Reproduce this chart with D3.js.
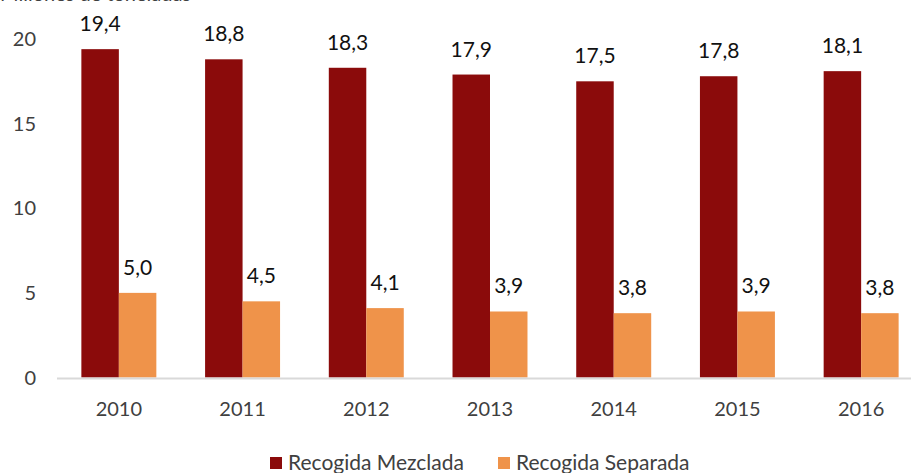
<!doctype html>
<html lang="es">
<head>
<meta charset="utf-8">
<title>Recogida de residuos</title>
<script src="https://cdnjs.cloudflare.com/ajax/libs/d3/7.8.5/d3.min.js"></script>
<style>
	body { margin: 0; background: #fff; }
	svg { display: block; font-family: Lato, "Open Sans", sans-serif; }
	.tick-label { fill: #404040; font-size: 20px; }
	.data-label { fill: #111; font-size: 21px; text-anchor: middle; }
	.legend-label { fill: #404040; font-size: 21px; }
</style>
</head>
<body>
<div id="viz"></div>
<script>
// Data
var years = ["2010", "2011", "2012", "2013", "2014", "2015", "2016"];
var mezclada = [19.4, 18.8, 18.3, 17.9, 17.5, 17.8, 18.1];
var separada = [5.0, 4.5, 4.1, 3.9, 3.8, 3.9, 3.8];
var seriesNames = ["Recogida Mezclada", "Recogida Separada"];
var yTicks = [0, 5, 10, 15, 20];

(function(d3) {
	var w = 911, h = 473;
	var colors = ["#8b0b0b", "#ef934a"];

	var svg = d3.select("#viz").append("svg")
		.attr("width", w)
		.attr("height", h);

	// title, cut off at the top edge as in the original
	svg.append("text")
		.attr("x", 0)
		.attr("y", 1)
		.attr("class", "tick-label")
		.text("Millones de toneladas");

	// SCALES
	var x = d3.scaleBand()
		.domain(years)
		.range([57, 923])
		.paddingInner(0.394)
		.paddingOuter(0.197);

	var x1 = d3.scaleBand()
		.domain([0, 1])
		.range([0, x.bandwidth()]);

	var y = d3.scaleLinear()
		.domain([0, 20])
		.range([377.5, 39]);

	// y tick labels
	svg.selectAll("text.ytick")
		.data(yTicks)
		.enter()
		.append("text")
		.attr("class", "tick-label ytick")
		.attr("x", 36)
		.attr("y", function(d) { return y(d); })
		.attr("dy", "0.35em")
		.style("text-anchor", "end")
		.text(function(d) { return d; });

	// bars
	var groups = svg.selectAll("g.year")
		.data(years)
		.enter()
		.append("g")
		.attr("class", "year")
		.attr("transform", function(d) { return "translate(" + x(d) + ",0)"; });

	var fmt = function(v) { return v.toFixed(1).replace(".", ","); };

	groups.selectAll("rect")
		.data(function(d, i) { return [mezclada[i], separada[i]]; })
		.enter()
		.append("rect")
		.attr("x", function(d, j) { return x1(j); })
		.attr("width", x1.bandwidth())
		.attr("y", function(d) { return y(d); })
		.attr("height", function(d) { return y(0) - y(d); })
		.attr("fill", function(d, j) { return colors[j]; });

	groups.selectAll("text")
		.data(function(d, i) { return [mezclada[i], separada[i]]; })
		.enter()
		.append("text")
		.attr("class", "data-label")
		.attr("x", function(d, j) { return x1(j) + x1.bandwidth() / 2; })
		.attr("y", function(d) { return y(d) - 18; })
		.text(fmt);

	// x axis line
	svg.append("line")
		.attr("x1", 57)
		.attr("x2", w)
		.attr("y1", y(0) + 1)
		.attr("y2", y(0) + 1)
		.attr("stroke", "#d9d9d9")
		.attr("stroke-width", 2);

	// x labels
	svg.selectAll("text.xtick")
		.data(years)
		.enter()
		.append("text")
		.attr("class", "tick-label xtick")
		.attr("x", function(d) { return x(d) + x.bandwidth() / 2; })
		.attr("y", 416)
		.style("text-anchor", "middle")
		.text(function(d) { return d; });

	// legend
	var legendX = [270, 498];
	var legend = svg.selectAll("g.legend")
		.data(seriesNames)
		.enter()
		.append("g")
		.attr("class", "legend")
		.attr("transform", function(d, i) { return "translate(" + legendX[i] + ",457)"; });

	legend.append("rect")
		.attr("width", 12)
		.attr("height", 12)
		.attr("fill", function(d, i) { return colors[i]; });

	legend.append("text")
		.attr("class", "legend-label")
		.attr("x", 18)
		.attr("y", 6)
		.attr("dy", "0.35em")
		.text(function(d) { return d; });

})(d3);
</script>
</body>
</html>
